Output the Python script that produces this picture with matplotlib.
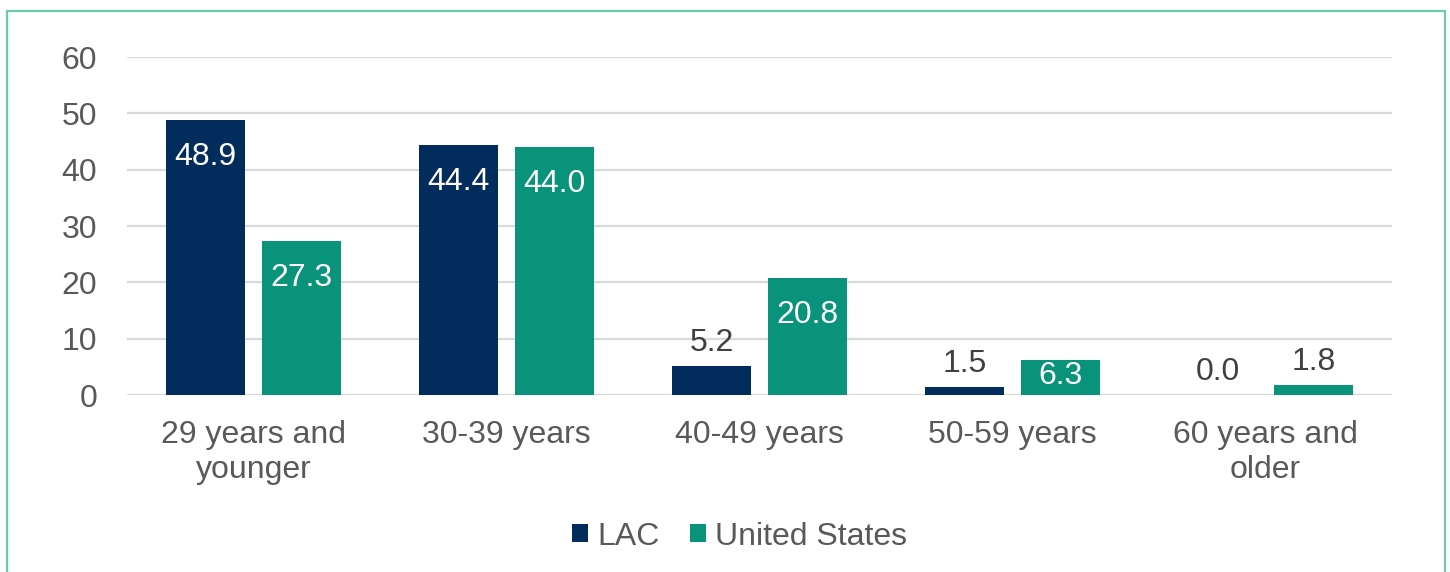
import numpy as np
import matplotlib.pyplot as plt
from matplotlib.patches import Rectangle

plt.rcParams['font.family'] = ['Liberation Sans', 'DejaVu Sans']

# Age groups and shares (%)
categories = ["29 years and\nyounger", "30-39 years", "40-49 years", "50-59 years", "60 years and\nolder"]
lac = [48.9, 44.4, 5.2, 1.5, 0.0]
us = [27.3, 44.0, 20.8, 6.3, 1.8]
series_names = ["LAC", "United States"]

NAVY = "#022C5C"
TEAL = "#08937A"
GRID = "#D9D9D9"
TEXT = "#595959"
FS = 23

fig = plt.figure(figsize=(14.5, 5.72), dpi=100)
ax = fig.add_axes([0.0876, 0.3094, 0.8724, 0.5909])

x = np.arange(len(categories))
off = 0.19
w = 0.312
b1 = ax.bar(x - off, lac, w, color=NAVY, label=series_names[0], zorder=3)
b2 = ax.bar(x + off, us, w, color=TEAL, label=series_names[1], zorder=3)

# value labels: inside the bar near the top if it fits, else above it
for bars in (b1, b2):
    for rect in bars:
        v = rect.get_height()
        cx = rect.get_x() + rect.get_width() / 2
        if v >= 15:
            ax.annotate(f"{v:.1f}", (cx, v), xytext=(0, -37), textcoords="offset pixels",
                        ha="center", va="center", color="white", fontsize=FS)
        elif v >= 6:
            ax.annotate(f"{v:.1f}", (cx, v), xytext=(0, -16), textcoords="offset pixels",
                        ha="center", va="center", color="white", fontsize=FS)
        else:
            ax.annotate(f"{v:.1f}", (cx, v), xytext=(0, 23), textcoords="offset pixels",
                        ha="center", va="center", color="#404040", fontsize=FS)

ax.set_xlim(-0.5, len(categories) - 0.5)
ax.set_ylim(0, 60)
ax.set_yticks(range(0, 61, 10))
ax.yaxis.grid(True, color=GRID, linewidth=1.6, zorder=0)
ax.set_axisbelow(True)
ax.set_xticks(x)
ax.set_xticklabels(categories, fontsize=FS, color=TEXT, linespacing=1.22)
ax.tick_params(axis="y", labelsize=FS, labelcolor=TEXT, length=0, pad=21.5)
ax.tick_params(axis="x", length=0, pad=18)
for s in ax.spines.values():
    s.set_visible(False)

leg = fig.legend(handles=[b1, b2], labels=series_names, loc="center",
                 bbox_to_anchor=(0.51, 0.062), ncol=2, frameon=False,
                 fontsize=FS, handlelength=0.5, handleheight=0.5,
                 handletextpad=0.3, columnspacing=0.95)
for t in leg.get_texts():
    t.set_color(TEXT)

# outer frame
fig.patches.append(Rectangle((0.0048, -0.05), 0.9918, 1.03, transform=fig.transFigure,
                             fill=False, edgecolor="#6CCBA8", linewidth=1.6))

fig.savefig("out.png", dpi=100)
